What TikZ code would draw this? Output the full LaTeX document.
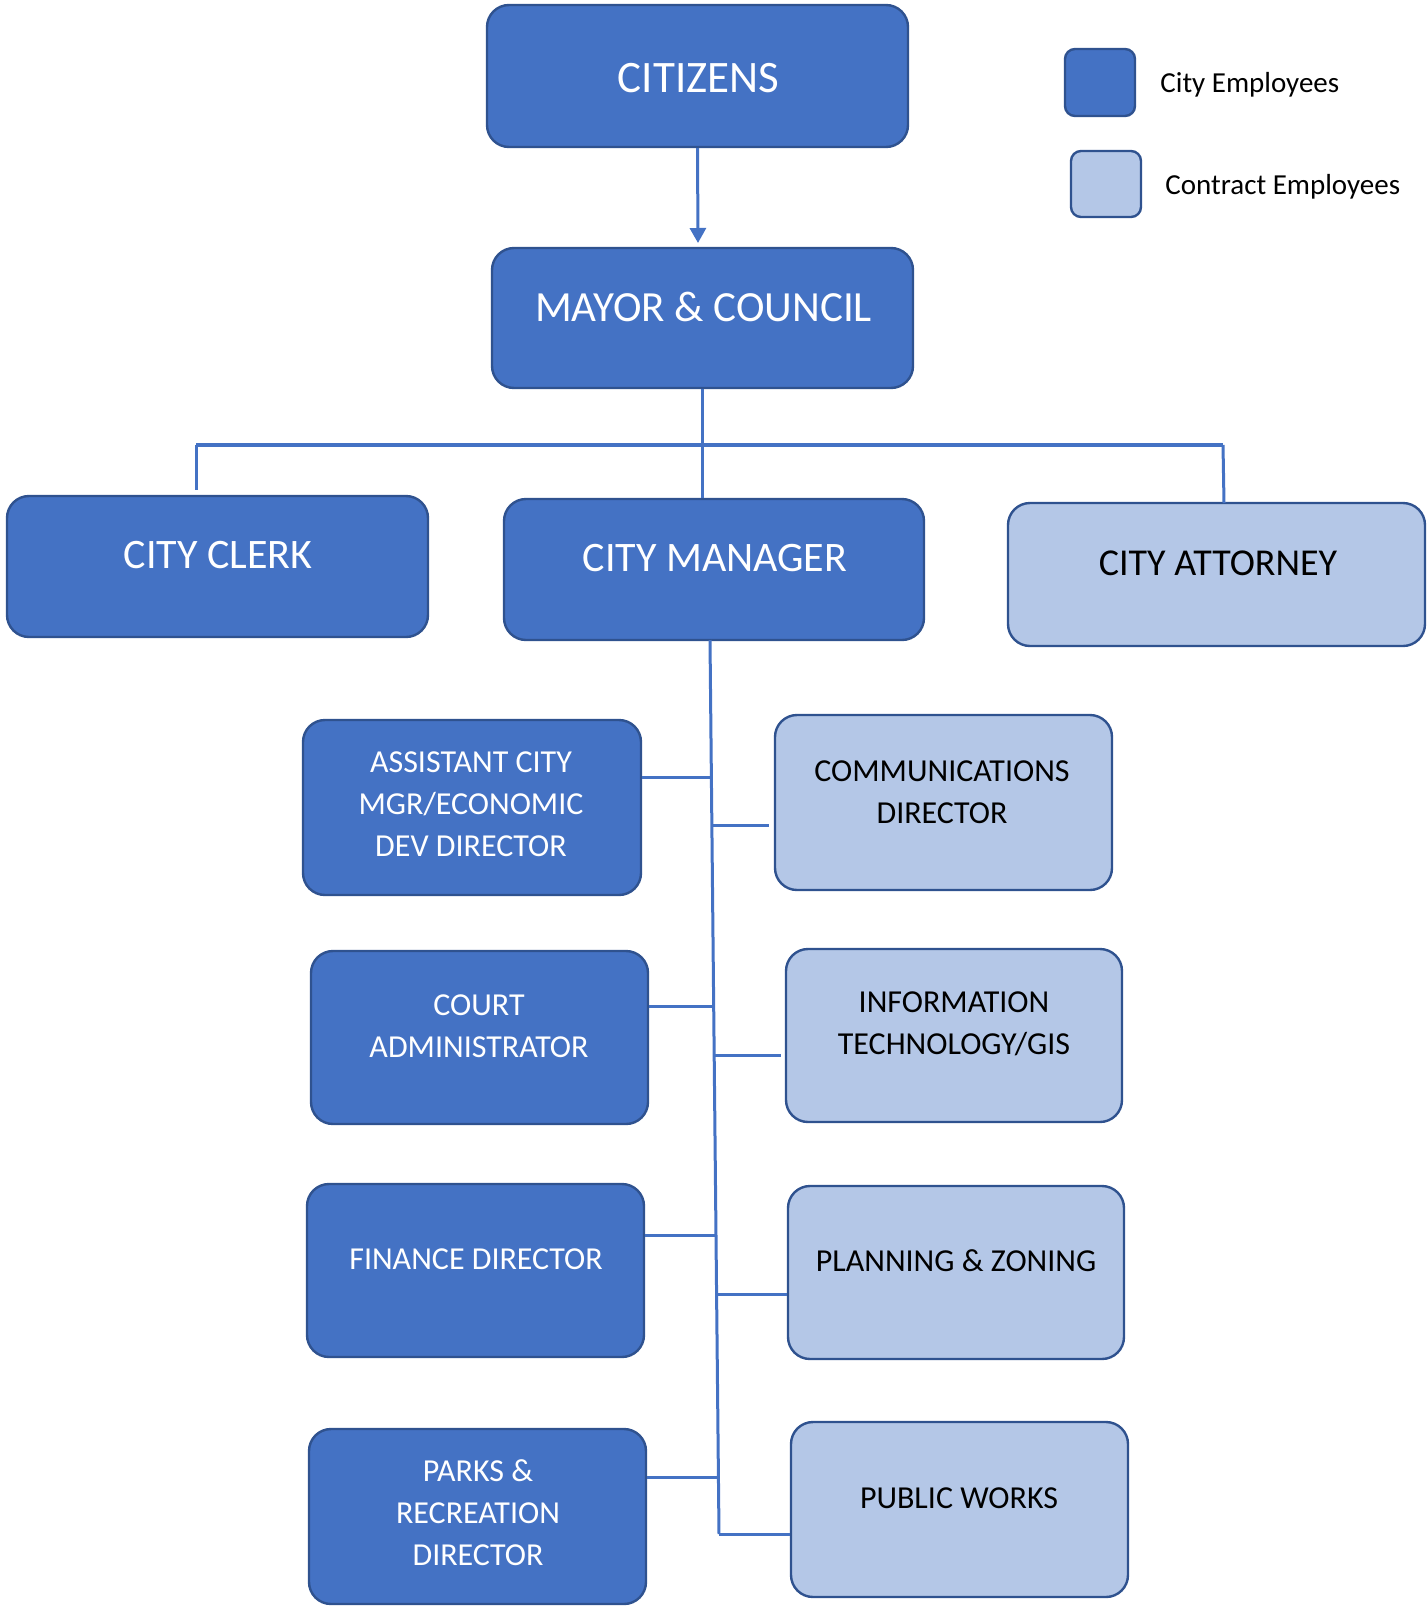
\documentclass[tikz,border=0pt]{standalone}
\usepackage{fontspec}
\setmainfont{Carlito}
\usetikzlibrary{arrows.meta,calc}
\definecolor{dk}{HTML}{4472C4}
\definecolor{lt}{HTML}{B4C7E7}
\definecolor{bd}{HTML}{2F528F}
\begin{document}
\begin{tikzpicture}[x=0.5pt,y=-0.5pt,
  box/.style={draw=bd, line width=1.2pt, rounded corners=11pt, inner sep=0pt},
  dkbox/.style={box, fill=dk},
  ltbox/.style={box, fill=lt},
  sz/.style 2 args={minimum width=#1pt, minimum height=#2pt},
  bigw/.style={font=\fontsize{21}{25}\selectfont, text=white, inner sep=0pt},
  bigk/.style={font=\fontsize{19}{23}\selectfont, text=black, inner sep=0pt},
  smw/.style={font=\fontsize{16}{21}\selectfont, text=white, align=center, inner sep=0pt},
  smk/.style={font=\fontsize{16}{21}\selectfont, text=black, align=center, inner sep=0pt},
  legtxt/.style={font=\fontsize{14.5}{17}\selectfont, text=black, inner sep=0pt},
  conn/.style={draw=dk, line width=1.5pt}
]
\useasboundingbox (0,0) rectangle (1428,1606);
% top tier
\node[dkbox, sz={210.5}{71}] (cit) at (697.5,76) {};
\node[bigw, font=\fontsize{22.5}{26}\selectfont] (citT) at (698.5,78) {CITIZENS};
\node[dkbox, sz={210.5}{70}] (mayor) at (702.5,318) {};
\node[bigw, font=\fontsize{21.5}{26}\selectfont] (mayorT) at (703.5,307) {MAYOR \& COUNCIL};
\node[dkbox, sz={210.5}{70.5}] (clerk) at (217.5,566.5) {};
\node[bigw] (clerkT) at (218,555) {CITY CLERK};
\node[dkbox, sz={210}{70.5}] (mgr) at (714,569.5) {};
\node[bigw] (mgrT) at (715,558) {CITY MANAGER};
\node[ltbox, sz={208.5}{71.5}] (att) at (1216.5,574.5) {};
\node[bigk] (attT) at (1218,563) {CITY ATTORNEY};
% legend
\node[box, rounded corners=5pt, fill=dk, sz={35}{33.5}] (leg1) at (1100,82.5) {};
\node[legtxt, anchor=base west] (leg1T) at (1160,92) {City Employees};
\node[box, rounded corners=5pt, fill=lt, sz={35}{33}] (leg2) at (1106,184) {};
\node[legtxt, anchor=base west] (leg2T) at (1165,194) {Contract Employees};
% departments
\node[dkbox, sz={169}{87.5}] (asst) at (472,807.5) {};
\node[smw] (asstT) at (471,804) {ASSISTANT CITY\\MGR/ECONOMIC\\DEV DIRECTOR};
\node[ltbox, sz={168.5}{87.5}] (comm) at (943.5,802.5) {};
\node[smk] (commT) at (942,792) {COMMUNICATIONS\\DIRECTOR};
\node[dkbox, sz={168.5}{86.5}] (court) at (479.5,1037.5) {};
\node[smw] (courtT) at (479,1026) {COURT\\ADMINISTRATOR};
\node[ltbox, sz={168}{86.5}] (it) at (954,1035.5) {};
\node[smk] (itT) at (954,1024) {INFORMATION\\TECHNOLOGY/GIS};
\node[dkbox, sz={168.5}{86.5}] (fin) at (475.5,1270.5) {};
\node[smw] (finT) at (476,1259) {FINANCE DIRECTOR};
\node[ltbox, sz={168}{86.5}] (plan) at (956,1272.5) {};
\node[smk] (planT) at (956,1261) {PLANNING \& ZONING};
\node[dkbox, sz={168.5}{87.5}] (parks) at (477.5,1516.5) {};
\node[smw] (parksT) at (478,1513) {PARKS \&\\RECREATION\\DIRECTOR};
\node[ltbox, sz={168.5}{87.5}] (pw) at (959.5,1509.5) {};
\node[smk] (pwT) at (959,1498) {PUBLIC WORKS};
% connectors top
\draw[conn, -{Triangle[width=8pt,length=7.5pt]}] (cit.south) -- (698,243);
\draw[conn] (mayor.south) -- (mayor.south |- mgr.north);
\coordinate (barL) at (196,445);
\coordinate (barR) at (1223,445);
\draw[conn, line width=1.8pt] (barL) -- (barR);
\draw[conn, shorten >=2.5pt] (barL) -- (barL |- clerk.north);
\draw[conn] (barR) -- (1224,503);
% spine
\coordinate (s0) at (710,640);
\coordinate (s1) at (719,1534);
\draw[conn] (s0) -- (s1);
\coordinate (j1) at (711.4,777);
\coordinate (j2) at (711.9,825);
\coordinate (j3) at (713.7,1006);
\coordinate (j4) at (714.2,1055);
\coordinate (j5) at (716,1235);
\coordinate (j6) at (716.6,1294);
\coordinate (j7) at (718.4,1477);
\draw[conn] (j1) -- (j1 -| asst.east);
\draw[conn, shorten >=2.5pt] (j2) -- (j2 -| comm.west);
\draw[conn] (j3) -- (j3 -| court.east);
\draw[conn, shorten >=2pt] (j4) -- (j4 -| it.west);
\draw[conn] (j5) -- (j5 -| fin.east);
\draw[conn] (j6) -- (j6 -| plan.west);
\draw[conn] (j7) -- (j7 -| parks.east);
\draw[conn] (s1) -- (s1 -| pw.west);
\end{tikzpicture}
\end{document}
